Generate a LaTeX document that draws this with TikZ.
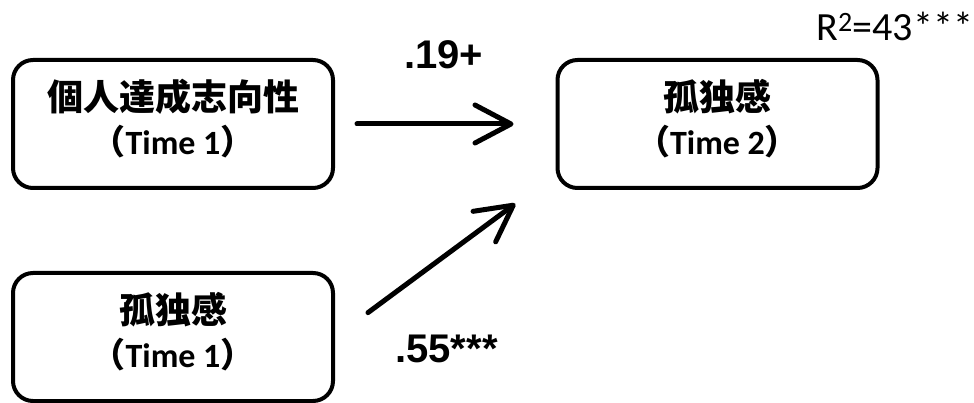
\documentclass[tikz,border=0pt]{standalone}
\usepackage{fontspec}
\setmainfont{Carlito}
\newfontfamily\cjk{Noto Sans CJK JP}
\newfontfamily\arial{Liberation Sans}
\usetikzlibrary{arrows.meta}

\tikzset{every picture/.style={line width=0.75pt}}
\tikzset{
  varbox/.style={draw, line width=4pt, rounded corners=20pt, minimum width=320pt,
    minimum height=128pt, inner sep=0pt, align=center, font=\fontsize{36}{38}\selectfont\bfseries},
  path/.style={line width=5pt, line cap=round, -{Straight Barb[length=36pt,width=38pt,round]}},
  coef/.style={inner sep=0pt, font=\fontsize{40}{40}\selectfont\arial\bfseries},
}
\newcommand{\timelabel}[1]{{\fontsize{34}{38}\selectfont\cjk （}{\fontsize{34}{38}\selectfont Time #1}{\fontsize{34}{38}\selectfont\cjk ）}\rule[-14pt]{0pt}{1pt}}

\begin{document}
\begin{tikzpicture}[x=1pt,y=1pt,yscale=-1,xscale=1]
  \useasboundingbox (0,0) rectangle (974,403);
  \fill[white] (0,0) rectangle (974,403);

  % Boxes
  \node[varbox] (ach1) at (173,124) {{\cjk 個人達成志向性}\\[6pt]\timelabel{1}};
  \node[varbox] (lon2) at (717.5,124) {{\cjk 孤独感}\\[6pt]\timelabel{2}};
  \node[varbox] (lon1) at (173,337) {{\cjk 孤独感}\\[6pt]\timelabel{1}};

  % Paths
  \draw[path, shorten <=22pt, shorten >=42pt] (ach1.east) -- (lon2.west);
  \draw[path, shorten <=41pt, shorten >=50pt] (lon1.east) -- ([yshift=-16pt]lon2.south west);

  % Text Node
  \node[coef, anchor=base west] (b1) at (404,69) {.19+};
  % Text Node
  \node[coef, anchor=base west] (b2) at (395,362) {.55***};
  % Text Node
  \node[inner sep=0pt, anchor=base west, font=\fontsize{40}{40}\selectfont] (r2) at (816,41) {R\textsuperscript{2}=43***};

\end{tikzpicture}
\end{document}
